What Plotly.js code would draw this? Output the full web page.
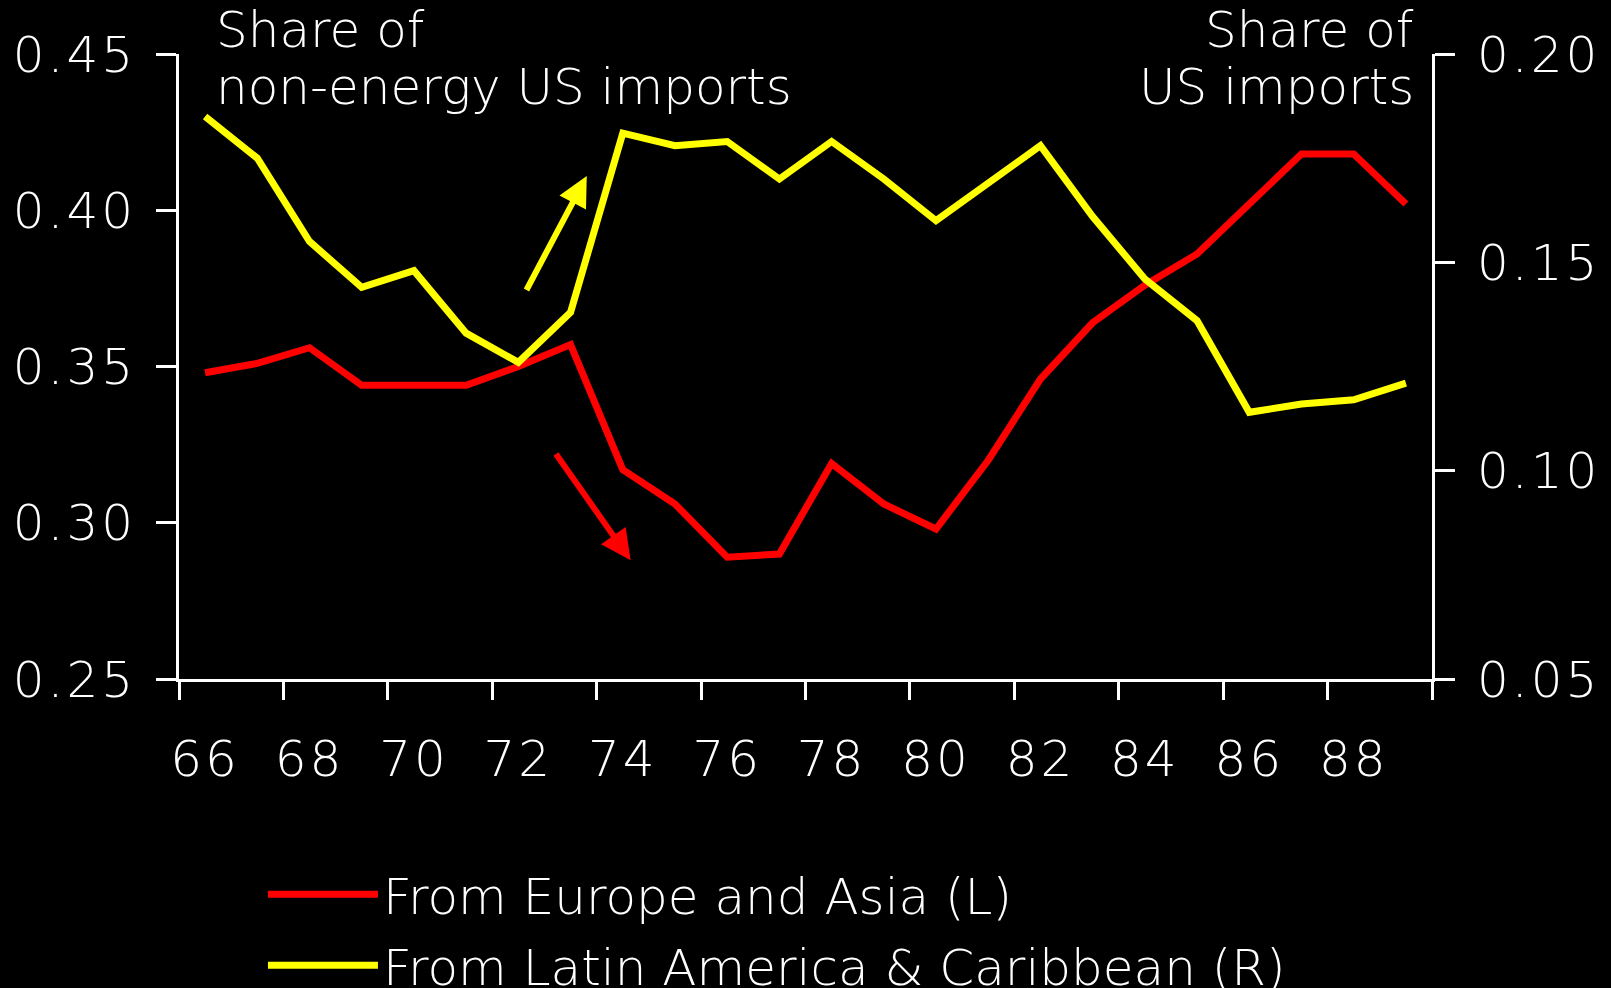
<!DOCTYPE html>
<html>
<head>
<meta charset="utf-8">
<script src="https://cdn.plot.ly/plotly-3.0.1.min.js"></script>
<style>
html,body{margin:0;padding:0;background:#000;}
#chart{width:1611px;height:988px;}
#chart .xtick text, #chart .x2tick text, #chart .ytick text, #chart .y2tick text{letter-spacing:3px;}
</style>
</head>
<body>
<div id="chart"></div>
<script>
const years = [66,67,68,69,70,71,72,73,74,75,76,77,78,79,80,81,82,83,84,85,86,87,88,89];
const europeAsia = [0.348,0.351,0.356,0.344,0.344,0.344,0.350,0.357,0.317,0.306,0.289,0.290,0.319,0.306,0.298,0.320,0.346,0.364,0.376,0.386,0.402,0.418,0.418,0.402];
const latinAmerica = [0.185,0.175,0.155,0.144,0.148,0.133,0.126,0.138,0.181,0.178,0.179,0.170,0.179,0.170,0.160,0.169,0.178,0.161,0.146,0.136,0.114,0.116,0.117,0.121];
const tickLabels = ['66','68','70','72','74','76','78','80','82','84','86','88'];
const tickYears = [66,68,70,72,74,76,78,80,82,84,86,88];
const boundaryTicks = [65.5,67.5,69.5,71.5,73.5,75.5,77.5,79.5,81.5,83.5,85.5,87.5,89.5];
const leftTicks = [0.25,0.30,0.35,0.40,0.45];
const rightTicks = [0.05,0.10,0.15,0.20];
const seriesNames = ['From Europe and Asia (L)','From Latin America &amp; Caribbean (R)'];

const F = 'DejaVu Sans, Verdana, sans-serif';
const W = '#ffffff';
const FS = 50;
const font = {family:F, size:FS, color:W, weight:300};

const traces = [
  {x: years, y: europeAsia, type:'scatter', mode:'lines', name: seriesNames[0], yaxis:'y', xaxis:'x',
   line:{color:'#ff0000', width:7}, legendgroup:'a'},
  {x: years, y: latinAmerica, type:'scatter', mode:'lines', name: seriesNames[1], yaxis:'y2', xaxis:'x',
   line:{color:'#ffff00', width:7}, legendgroup:'b'},
  {x:[years[0]], y:[europeAsia[0]], xaxis:'x2', yaxis:'y', type:'scatter', mode:'markers',
   marker:{opacity:0}, showlegend:false, hoverinfo:'skip'}
];

const axisCommon = {showgrid:false, zeroline:false, showline:true, linecolor:W, linewidth:3,
  ticks:'outside', tickcolor:W, tickwidth:3, tickfont:font};

const layout = {
  width:1611, height:988,
  paper_bgcolor:'#000', plot_bgcolor:'#000',
  margin:{l:179, r:179, t:54, b:309, autoexpand:false},
  font:font,
  showlegend:true,
  legend:{x:0.067, y:-0.282, xanchor:'left', yanchor:'top', orientation:'v',
    font:font, bgcolor:'rgba(0,0,0,0)', itemwidth:110, tracegroupgap:3},
  xaxis: Object.assign({}, axisCommon, {range:[65.5,89.5], tickmode:'array', tickvals:boundaryTicks,
    ticktext:boundaryTicks.map(()=>''), ticklen:18}),
  xaxis2: {overlaying:'x', anchor:'y', side:'bottom', range:[65.5,89.5], tickmode:'array', tickvals:tickYears,
    ticktext:tickLabels, ticks:'', showline:false, showgrid:false, zeroline:false,
    tickfont:font, ticklabelstandoff:46},
  yaxis: Object.assign({}, axisCommon, {range:[0.25,0.45], tickmode:'array', tickvals:leftTicks,
    ticktext:leftTicks.map(v=>v.toFixed(2)), ticklen:20, ticklabelstandoff:10}),
  yaxis2: Object.assign({}, axisCommon, {overlaying:'y', side:'right', range:[0.05,0.20], tickmode:'array',
    tickvals:rightTicks, ticktext:rightTicks.map(v=>v.toFixed(2)), ticklen:20, ticklabelstandoff:12}),
  annotations:[
    {xref:'paper', yref:'paper', x:0.028, y:1.038, xanchor:'left', yanchor:'middle', showarrow:false,
     text:'Share of', font:font},
    {xref:'paper', yref:'paper', x:0.028, y:0.948, xanchor:'left', yanchor:'middle', showarrow:false,
     text:'non-energy US imports', font:font},
    {xref:'paper', yref:'paper', x:0.987, y:1.038, xanchor:'right', yanchor:'middle', showarrow:false,
     text:'Share of', font:font},
    {xref:'paper', yref:'paper', x:0.987, y:0.948, xanchor:'right', yanchor:'middle', showarrow:false,
     text:'US imports', font:font},
    {xref:'x', yref:'y', x:73.31, y:0.411, axref:'x', ayref:'y', ax:72.14, ay:0.374, text:'',
     showarrow:true, arrowhead:2, arrowsize:1, arrowwidth:6, arrowcolor:'#ffff00', standoff:0, startstandoff:0},
    {xref:'x', yref:'y', x:74.15, y:0.288, axref:'x', ayref:'y', ax:72.70, ay:0.3225, text:'',
     showarrow:true, arrowhead:2, arrowsize:1, arrowwidth:6, arrowcolor:'#ff0000', standoff:0, startstandoff:0}
  ]
};

Plotly.newPlot('chart', traces, layout, {displayModeBar:false, staticPlot:true});
</script>
</body>
</html>
